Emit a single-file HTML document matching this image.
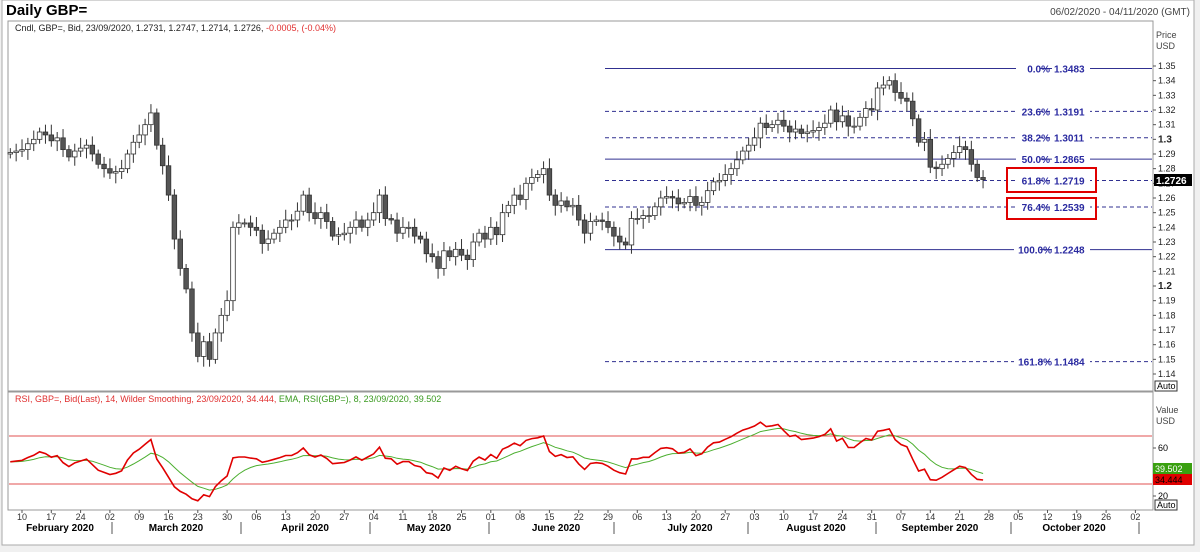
<!DOCTYPE html>
<html><head><meta charset="utf-8"><style>
body{margin:0;background:#fff;width:1200px;height:552px;overflow:hidden;font-family:"Liberation Sans",sans-serif}
</style></head><body>
<svg id="s" width="1200" height="552" xmlns="http://www.w3.org/2000/svg" font-family="Liberation Sans, sans-serif">
<rect x="0" y="0" width="1200" height="552" fill="#f0f0f0"/>
<rect x="2" y="0" width="1192" height="545" fill="#fff" stroke="#aaa"/>
<text x="6" y="15" font-size="15" font-weight="bold">Daily GBP=</text>
<text x="1190" y="15" font-size="10" fill="#444" text-anchor="end">06/02/2020 - 04/11/2020 (GMT)</text>
<rect x="8" y="21" width="1145" height="370" fill="#fff" stroke="#999"/>
<rect x="8" y="392" width="1145" height="118" fill="#fff" stroke="#999"/>
<text x="15" y="31" font-size="9" fill="#222">Cndl, GBP=, Bid, 23/09/2020, 1.2731, 1.2747, 1.2714, 1.2726, <tspan fill="#e03030">-0.0005, (-0.04%)</tspan></text>
<text x="15" y="402" font-size="9" fill="#e03030">RSI, GBP=, Bid(Last),  14, Wilder Smoothing, 23/09/2020, 34.444, <tspan fill="#3a9a20">EMA,  RSI(GBP=),  8, 23/09/2020, 39.502</tspan></text>
<text x="1156" y="38" font-size="9" fill="#444">Price</text><text x="1156" y="49" font-size="9" fill="#444">USD</text>
<text x="1156" y="413" font-size="9" fill="#444">Value</text><text x="1156" y="424" font-size="9" fill="#444">USD</text>
<g id="g"></g>
</svg>
<script>
const g=document.getElementById('g');let h='';
const Y=p=>66+(1.35-p)*1466.7;
for(let i=0;i<=21;i++){const p=1.14+i*0.01,y=Y(p);const b=Math.abs(p-1.3)<1e-6||Math.abs(p-1.2)<1e-6;
h+=`<line x1="1153" x2="1156" y1="${y}" y2="${y}" stroke="#555"/><text x="1158" y="${y+3}" font-size="${b?10:9}" ${b?'font-weight="bold"':''} fill="#222">${b?p.toFixed(1):p.toFixed(2)}</text>`;}
h+=`<rect x="1155" y="381" width="22" height="10" fill="#fff" stroke="#333"/><text x="1157" y="389" font-size="9">Auto</text>`;
h+=`<rect x="1155" y="500" width="22" height="10" fill="#fff" stroke="#333"/><text x="1157" y="508" font-size="9">Auto</text>`;
const fib=[['0.0%','1.3483',1.3483,0],['23.6%','1.3191',1.3191,1],['38.2%','1.3011',1.3011,1],['50.0%','1.2865',1.2865,0],['61.8%','1.2719',1.2719,1],['76.4%','1.2539',1.2539,1],['100.0%','1.2248',1.2248,0],['161.8%','1.1484',1.1484,1]];
fib.forEach(f=>{const y=Y(f[2]);h+=`<line x1="605" x2="1152" y1="${y}" y2="${y}" stroke="#303090" ${f[3]?'stroke-dasharray="4,3"':''}/>`;
h+=`<rect x="${f[0].length>5?1014:1016}" y="${y-6}" width="${f[0].length>5?26:24}" height="12" fill="#fff"/><rect x="1052" y="${y-6}" width="38" height="12" fill="#fff"/><text x="${f[0].length>5?1052:1050}" y="${y+4}" font-size="10" font-weight="bold" fill="#2a2aa0" text-anchor="end">${f[0]}</text><text x="1054" y="${y+4}" font-size="10" font-weight="bold" fill="#2a2aa0">${f[1]}</text>`;});
h+=`<rect x="1007" y="168" width="89" height="24" fill="none" stroke="#e00000" stroke-width="2"/><rect x="1007" y="198" width="89" height="21" fill="none" stroke="#e00000" stroke-width="2"/>`;
const C=[1.291,1.292,1.293,1.297,1.300,1.305,1.303,1.299,1.301,1.293,1.288,1.292,1.294,1.296,1.290,1.283,1.280,1.277,1.278,1.280,1.290,1.298,1.303,1.310,1.318,1.296,1.282,1.262,1.232,1.212,1.198,1.168,1.152,1.162,1.150,1.168,1.180,1.190,1.240,1.243,1.243,1.240,1.238,1.229,1.232,1.236,1.240,1.245,1.245,1.251,1.262,1.250,1.246,1.250,1.244,1.234,1.235,1.236,1.240,1.245,1.240,1.245,1.250,1.262,1.246,1.245,1.236,1.240,1.240,1.234,1.232,1.222,1.220,1.212,1.224,1.220,1.225,1.221,1.218,1.230,1.236,1.232,1.240,1.235,1.250,1.255,1.262,1.259,1.270,1.274,1.276,1.280,1.262,1.255,1.258,1.254,1.255,1.245,1.236,1.244,1.245,1.244,1.240,1.234,1.230,1.228,1.246,1.246,1.248,1.248,1.254,1.260,1.261,1.260,1.256,1.257,1.261,1.255,1.257,1.265,1.271,1.272,1.276,1.280,1.286,1.292,1.296,1.301,1.311,1.308,1.310,1.313,1.309,1.305,1.307,1.304,1.305,1.306,1.308,1.311,1.320,1.312,1.316,1.309,1.309,1.315,1.321,1.320,1.335,1.337,1.340,1.332,1.328,1.326,1.314,1.298,1.300,1.281,1.280,1.283,1.287,1.291,1.295,1.293,1.283,1.274,1.2726];
const X=i=>10.3+i*5.86;
let prev=1.290;
C.forEach((c,i)=>{const o=prev,x=X(i);const hi=Math.max(o,c)+0.003+((i*7)%5)*0.001,lo=Math.min(o,c)-0.003-((i*3)%5)*0.001;
h+=`<line x1="${x}" x2="${x}" y1="${Y(hi)}" y2="${Y(lo)}" stroke="#333"/>`;
const t=Y(Math.max(o,c)),bh=Math.max(1,Math.abs(Y(o)-Y(c)));
h+=`<rect x="${x-2.3}" y="${t}" width="4.6" height="${bh}" fill="${c>=o?'#fff':'#555'}" stroke="#333" stroke-width="0.8"/>`;prev=c;});
h+=`<rect x="1154" y="174" width="38" height="12" fill="#000"/><text x="1156" y="184" font-size="10" font-weight="bold" fill="#fff">1.2726</text>`;
const R=v=>520-v*1.2;
let ag=0.0035,al=0.0038,rsi=[];const n=14;
let p0=1.290;
for(let i=0;i<C.length;i++){const d=C[i]-p0;p0=C[i];const gg=Math.max(d,0),ll=Math.max(-d,0);
ag=(ag*(n-1)+gg)/n;al=(al*(n-1)+ll)/n;rsi.push(100-100/(1+ag/al));}
let ema=[],e=rsi[0];const k=2/9;rsi.forEach(v=>{e=v*k+e*(1-k);ema.push(e);});
h+=`<line x1="9" x2="1152" y1="${R(70)}" y2="${R(70)}" stroke="#e05050"/><line x1="9" x2="1152" y1="${R(30)}" y2="${R(30)}" stroke="#e05050"/>`;
h+=`<line x1="1153" x2="1156" y1="${R(60)}" y2="${R(60)}" stroke="#555"/><text x="1158" y="${R(60)+3}" font-size="9">60</text>`;
h+=`<line x1="1153" x2="1156" y1="${R(20)}" y2="${R(20)}" stroke="#555"/><text x="1158" y="${R(20)+3}" font-size="9">20</text>`;
const pts=a=>a.map((v,i)=>`${X(i).toFixed(1)},${R(Math.max(8,Math.min(92,v))).toFixed(1)}`).join(' ');
h+=`<polyline points="${pts(ema)}" fill="none" stroke="#4caf30" stroke-width="1"/>`;
h+=`<polyline points="${pts(rsi)}" fill="none" stroke="#e00000" stroke-width="1.6"/>`;
h+=`<rect x="1153" y="463" width="39" height="11" fill="#3aa010"/><text x="1155" y="472" font-size="9" fill="#fff">39.502</text>`;
h+=`<rect x="1153" y="474" width="39" height="11" fill="#e00000"/><text x="1155" y="483" font-size="9" fill="#000">34.444</text>`;
const days=['10','17','24','02','09','16','23','30','06','13','20','27','04','11','18','25','01','08','15','22','29','06','13','20','27','03','10','17','24','31','07','14','21','28','05','12','19','26','02'];
days.forEach((d,i)=>{const x=22+i*29.3;h+=`<line x1="${x}" x2="${x}" y1="510" y2="513" stroke="#555"/><text x="${x}" y="520" font-size="9" text-anchor="middle" fill="#333">${d}</text>`;});
const months=[['February 2020',60],['March 2020',176],['April 2020',305],['May 2020',429],['June 2020',556],['July 2020',690],['August 2020',816],['September 2020',940],['October 2020',1074]];
months.forEach(m=>h+=`<text x="${m[1]}" y="531" font-size="10" font-weight="bold" text-anchor="middle">${m[0]}</text>`);
[112,241,370,489,614,748,876,1011,1139].forEach(x=>h+=`<line x1="${x}" x2="${x}" y1="522" y2="534" stroke="#555"/>`);
g.innerHTML=h;
</script>
</body></html>
